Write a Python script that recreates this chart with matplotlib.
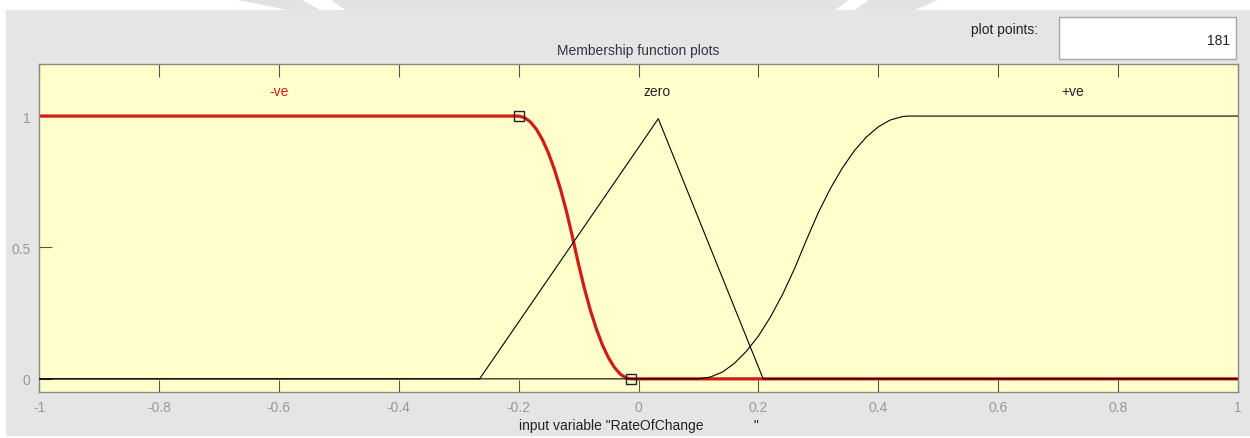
import matplotlib.pyplot as plt
from matplotlib.patches import Rectangle, Polygon

plt.rcParams['font.family'] = ['Liberation Sans', 'DejaVu Sans']

# membership functions of input variable "RateOfChange"
neg_x = [-1, -0.2, -0.19, -0.18, -0.17, -0.16, -0.15, -0.14, -0.13, -0.12, -0.11,
         -0.1, -0.09, -0.08, -0.07, -0.06, -0.05, -0.04, -0.03, -0.02, -0.0125, 1]
neg_y = [1, 1, 0.994, 0.977, 0.949, 0.909, 0.858, 0.795, 0.721, 0.636, 0.539,
         0.436, 0.342, 0.259, 0.188, 0.128, 0.08, 0.043, 0.017, 0.003, 0, 0]

zero_x = [-1, -0.265, 0.033, 0.208, 1]
zero_y = [0, 0, 0.99, 0, 0]

pos_x = [-1, 0.1, 0.12, 0.14, 0.16, 0.18, 0.2, 0.22, 0.24, 0.26, 0.28, 0.3,
         0.32, 0.34, 0.36, 0.38, 0.4, 0.42, 0.44, 0.45, 1]
pos_y = [0, 0, 0.007, 0.026, 0.059, 0.105, 0.163, 0.235, 0.32, 0.418, 0.528, 0.633,
         0.724, 0.802, 0.868, 0.92, 0.959, 0.985, 0.998, 1, 1]

mf_names = ['-ve', 'zero', '+ve']
mf_label_x = [-0.6, 0.031, 0.725]
neg_params = [-0.2, -0.0125]

x_ticks = [-1, -0.8, -0.6, -0.4, -0.2, 0, 0.2, 0.4, 0.6, 0.8, 1]
x_tick_labels = ['-1', '-0.8', '-0.6', '-0.4', '-0.2', '0', '0.2', '0.4', '0.6', '0.8', '1']
y_ticks = [0, 0.5, 1]
y_tick_labels = ['0', '0.5', '1']
plot_points = 181

W, H = 1250, 439
RED = '#cf1d16'


def fx(x):
    return x / W


def fy(y):
    return 1 - y / H


fig = plt.figure(figsize=(12.5, 4.39), dpi=100)
fig.patch.set_facecolor('white')

# gray window panel and the faint shapes in the white strip above it
fig.patches.append(Rectangle((fx(6), fy(437)), 1 - fx(6), fy(11) - fy(437),
                             transform=fig.transFigure,
                             facecolor='#e5e5e5', edgecolor='none', zorder=0))
shapes = [
    [(232, 0), (300, 0), (320, 11), (288, 11)],
    [(330, 0), (850, 0), (835, 11), (345, 11)],
    [(870, 0), (940, 0), (915, 11), (855, 11)],
]
for s in shapes:
    fig.patches.append(Polygon([(fx(a), fy(b)) for a, b in s], closed=True,
                               transform=fig.transFigure, facecolor='#e2e2e2',
                               edgecolor='none', zorder=0))

ax = fig.add_axes([fx(39), fy(393), fx(1238 - 39), (393 - 64.5) / H])
ax.set_zorder(2)
ax.set_facecolor('#ffffcc')

ax.plot(neg_x, neg_y, color=RED, linewidth=2.3, zorder=2)
ax.plot(zero_x, zero_y, color='black', linewidth=0.8, zorder=3)
ax.plot(pos_x, pos_y, color='black', linewidth=0.8, zorder=3)
ax.plot(neg_params, [1, 0], linestyle='none', marker='s', markersize=7.5,
        markerfacecolor='none', markeredgecolor='#222222', markeredgewidth=1.0, zorder=4)

for name, lx in zip(mf_names, mf_label_x):
    ax.text(lx, 1.095, name, ha='center', va='center', fontsize=10,
            color=RED if name == '-ve' else '#222222')

ax.set_xlim(-1, 1)
ax.set_ylim(-0.05, 1.2)
ax.set_xticks(x_ticks)
ax.set_xticklabels(x_tick_labels)
ax.set_yticks(y_ticks)
ax.set_yticklabels(y_tick_labels)
ax.tick_params(direction='in', length=9, width=0.8, color='#555555',
               labelcolor='#999999', labelsize=10, top=True, pad=6)
for sp in ax.spines.values():
    sp.set_color('#8a8a80')
    sp.set_linewidth(1.0)

ax.set_title('Membership function plots', fontsize=10, color='#333344', pad=7)
ax.set_xlabel('input variable "RateOfChange' + ' ' * 13 + '"', fontsize=10,
              color='#222222', labelpad=3)

# plot points box
fig.text(fx(1038), fy(30), 'plot points:', ha='right', va='center', fontsize=10, color='#222222')
fig.patches.append(Rectangle((fx(1059), fy(60)), fx(1236 - 1059), (60 - 18) / H,
                             transform=fig.transFigure, facecolor='white',
                             edgecolor='#a8a8a8', linewidth=1.0, zorder=1))
fig.text(fx(1230), fy(41), str(plot_points), ha='right', va='center', fontsize=10, color='#222222')

plt.savefig('out.png', dpi=100)
